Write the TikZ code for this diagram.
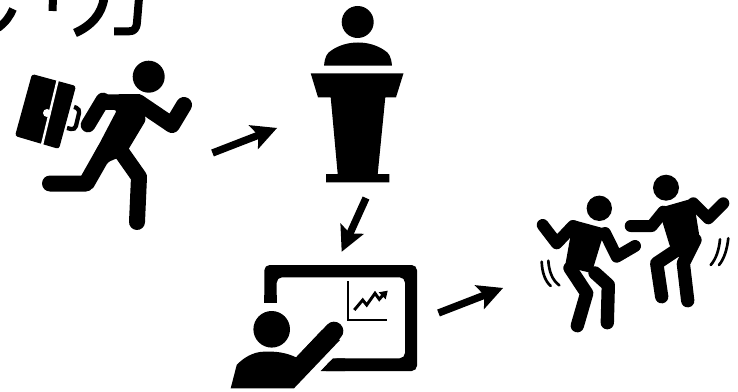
\documentclass[tikz,border=0pt]{standalone}
\usetikzlibrary{calc}
\tikzset{
 px/.style={x=0.75pt,y=-0.75pt},
 ink/.style={fill=black,draw=none},
 limb/.style={draw=black,line cap=round,line join=round,line width=12pt},
 limbd/.style={draw=black,line cap=round,line join=round,line width=9pt},
 legd/.style={draw=black,line cap=round,line join=round,line width=10pt},
 gl/.style={draw=black,line cap=butt,line join=round,line width=6pt},
 wig/.style={draw=black,line cap=round,line width=2pt},
}
\begin{document}
\begin{tikzpicture}[px]
\useasboundingbox (0,0) rectangle (738,392);
\clip (0,0) rectangle (738,392);
% cropped title strokes
\draw[gl] (13,9) .. controls (10,16) and (6,22) .. (-2,28);
\draw[gl] (53,-2) -- (52.5,11);
\draw[gl,line width=6.5pt] (104,-2) .. controls (102,14) and (91,26) .. (75,33);
\draw[gl] (139,-2) -- (137,22) .. controls (136.5,29) and (134,31.3) .. (129,31.3) -- (114,31.3);
% runner
\fill (148.7,76.7) circle (16);
\fill[ink,rounded corners=2pt] (32,74) -- (76,86) -- (59,149) -- (15,136) -- cycle;
\draw[white,line width=1.8pt] (58,79) -- (41.5,147);
\fill[white] (47,113) circle (4);
\draw[black,line width=3.2pt,rounded corners=3pt] (74,107) -- (80,109) -- (75,130) -- (67,128);
\fill[ink,rounded corners=2pt] (100,94.5) -- (138,94) -- (146,120) -- (125,155) -- (108,162) -- (92,190) -- (83,175) -- (117,110) -- (100,110) -- cycle;
\draw[limb] (50,183.5) -- (86,183.5) -- (105,150);
\draw[limb] (120,150) -- (139,177) -- (137,222);
\draw[limb] (138,102) -- (172,125) -- (184,105);
\draw[limb,line width=11pt] (103,100) -- (88,125);
% lectern
\fill (357.7,22) circle (16);
\fill[ink] (324,65.7) .. controls (325,56) and (327,53) .. (332,50) .. controls (347,40) and (369,40) .. (384,50) .. controls (389,53) and (391,56) .. (392,65.7) -- cycle;
\fill[ink] (310.7,73.3) -- (403.5,73.3) -- (396,97.3) -- (385.3,97.3) -- (377.7,174) -- (389.3,174) -- (389.3,182.3) -- (326,182.3) -- (326,174) -- (337.7,174) -- (330.7,97.3) -- (318,97.3) -- cycle;
% presenter board
\fill[ink,even odd rule,rounded corners=4pt] (264.3,302.7) -- (264.3,265) -- (417,265) -- (417,371) -- (320.7,371) -- (333,358.3) -- (405,358.3) -- (405,277.3) -- (276.7,277.3) -- (276.7,302.7) -- cycle;
\fill[ink] (264.3,295) rectangle (276.7,303);
\fill[ink] (320.7,371) -- (333,358.3) -- (345,358.3) -- (345,371) -- cycle;
\draw[black,line width=2.2pt] (348,281) -- (348,320) -- (387,320);
\draw[black,line width=2.2pt] (354.3,310) -- (362.7,300) -- (366.7,305) -- (375,293.3) -- (379.3,299.3) -- (383,295);
\fill[ink] (378.7,292.3) -- (387.7,290.7) -- (385.7,299.3) -- cycle;
\fill (271.7,329.3) circle (18.3);
\fill[ink] (230.7,388.3) -- (236.7,365) .. controls (243,358) and (253,352) .. (263.3,351.7) .. controls (277,351) and (287,353) .. (296,357.3) -- (322,330) -- (340,340) -- (294,388.3) -- cycle;
\draw[black,line cap=round,line width=14pt] (334,331) -- (305,362);
% dancers
\fill (599.3,208.3) circle (12.7);
\fill[ink,rounded corners=1.5pt] (573.3,220) -- (607.3,229.3) -- (601.7,240) -- (591.7,273) -- (565,266.7) -- cycle;
\draw[limbd] (542.7,225) -- (556.7,243.3) -- (573,226);
\draw[limbd] (605,233) -- (616.7,256.7) -- (635,246);
\draw[legd] (595,273) -- (608.3,285) -- (607.3,322.7);
\draw[legd] (570,268) -- (586.7,293.3) -- (577.3,325.7);
\fill (666,187.7) circle (13);
\fill[ink,rounded corners=1.5pt] (658.3,208.3) -- (693.3,198.3) -- (700,240) -- (680,258.3) -- (670,246.7) -- cycle;
\draw[limbd] (630.7,226) -- (651.7,226) -- (663.3,211.7);
\draw[limbd] (693.3,203.3) -- (708.3,218.3) -- (723.3,203.3);
\draw[legd] (676.7,250) -- (656.7,263.3) -- (661.7,296.7);
\draw[legd] (695,240) -- (683.3,263.3) -- (687.7,300.7);
\draw[wig] (541.7,261.7) .. controls (542,272) and (545,281) .. (550.7,286);
\draw[wig] (548.3,260.7) .. controls (549,271) and (552,280) .. (559.3,285.3);
\draw[wig] (720,239.3) .. controls (719,250) and (716,259) .. (710.7,265);
\draw[wig] (728.3,238.3) .. controls (727,250) and (724,259) .. (719,265);
% arrows
\coordinate (a1s) at (212.5,153); \coordinate (a1e) at (277,128);
\coordinate (a2s) at (366,198); \coordinate (a2e) at (341.7,251.7);
\coordinate (a3s) at (438.5,313); \coordinate (a3e) at (503,288);
\foreach \s/\e in {a1s/a1e,a2s/a2e,a3s/a3e}{
 \draw[black,line width=5.5pt,shorten >=12pt] (\s) -- (\e);
 \fill[black] (\e) -- ($(\e)!21.5pt!27:(\s)$) -- ($(\e)!15pt!0:(\s)$) -- ($(\e)!21.5pt!-27:(\s)$) -- cycle;
}
\end{tikzpicture}
\end{document}
